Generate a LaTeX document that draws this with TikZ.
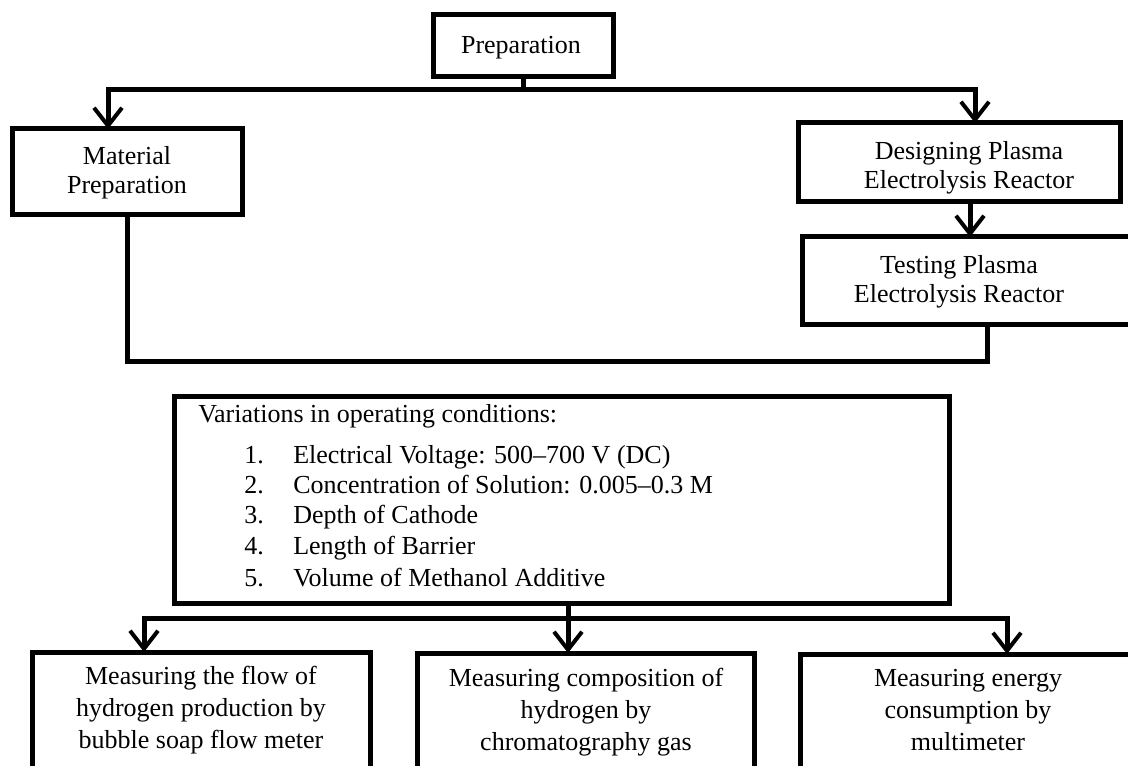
\documentclass[tikz,border=0pt]{standalone}
\usepackage{fontspec}
\setmainfont{Liberation Serif}
\usetikzlibrary{arrows.meta,fit}
\begin{document}
\begin{tikzpicture}[x=0.75pt,y=-0.75pt,
  box/.style={draw, line width=3.75pt, inner sep=0pt, rectangle},
  txt/.style={align=center, font=\fontsize{19.5}{21.5}\selectfont, inner sep=0pt},
  txtb/.style={align=center, font=\fontsize{19.5}{24}\selectfont, inner sep=0pt},
  ltxt/.style={font=\fontsize{19.5}{22}\selectfont, inner sep=0pt, anchor=base west},
  conn/.style={line width=3.75pt, line join=miter},
  arr/.style={line width=3.75pt, line join=miter, -{Straight Barb[length=13.5pt,width=21pt,line width=3pt]}}]
\useasboundingbox (0,0) rectangle (1128,766);
\clip (0,0) rectangle (1128,766);

% boxes
\node[box, fit={(433,15) (613,77)}] (prep) {};
\node[txt] (prepT) at (521,48) {Preparation};

\node[box, fit={(12,129) (242,215)}] (mat) {};
\node[txt] (matT) at (127,173) {Material\\Preparation};

\node[box, fit={(798,123) (1120,202)}] (des) {};
\node[txt] (desT) at (969,168) {Designing Plasma\\Electrolysis Reactor};

\node[box, fit={(802,237) (1140,325)}] (tst) {};
\node[txt] (tstT) at (959,282) {Testing Plasma\\Electrolysis Reactor};

\node[box, fit={(174,397) (949,603)}] (var) {};
\node[ltxt] (varT) at (198,422) {Variations in operating conditions:};
\foreach \n/\t/\y in {1/Electrical Voltage: 500–700 V (DC)/463,
                      2/Concentration of Solution: 0.005–0.3 M/493,
                      3/Depth of Cathode/523,
                      4/Length of Barrier/554,
                      5/Volume of Methanol Additive/586}{
  \node[ltxt] (num\n) at (244,\y) {\n.};
  \node[ltxt] (item\n) at (293,\y) {\t};
}

\node[box, fit={(32,652) (370,800)}] (m1) {};
\node[txtb] (m1T) at (201,710) {Measuring the flow of\\hydrogen production by\\bubble soap flow meter};
\node[box, fit={(417,653) (754,800)}] (m2) {};
\node[txtb] (m2T) at (586,712) {Measuring composition of\\hydrogen by\\chromatography gas};
\node[box, fit={(800,654) (1138,800)}] (m3) {};
\node[txtb] (m3T) at (968,710) {Measuring energy\\consumption by\\multimeter};

% junction coordinates
\coordinate (j1) at (prep.south |- 0,90);
\coordinate (matIn) at (108,129);
\coordinate (desIn) at (975,123);
\coordinate (desOut) at (970,202);
\coordinate (tstIn) at (970,237);
\coordinate (tstOut) at (987,325);
\coordinate (low) at (0,362);
\coordinate (varOut) at (568,603);
\coordinate (j2) at (568,618);
\coordinate (m1In) at (144,652);
\coordinate (m2In) at (568,653);
\coordinate (m3In) at (1007,654);

% connectors
\draw[conn] (prep.south) -- ([yshift=-1.5pt]j1);
\draw[arr] (j1) -| (matIn);
\draw[arr] (j1) -| (desIn);
\draw[arr] (desOut) -- (tstIn);
\draw[conn] (tstOut) -- (tstOut |- low) -- (mat.south |- low) -- (mat.south);
\draw[conn] (varOut) -- (j2);
\draw[arr] (j2) -| (m1In);
\draw[arr] (j2) -- (m2In);
\draw[arr] (j2) -| (m3In);
\end{tikzpicture}
\end{document}
